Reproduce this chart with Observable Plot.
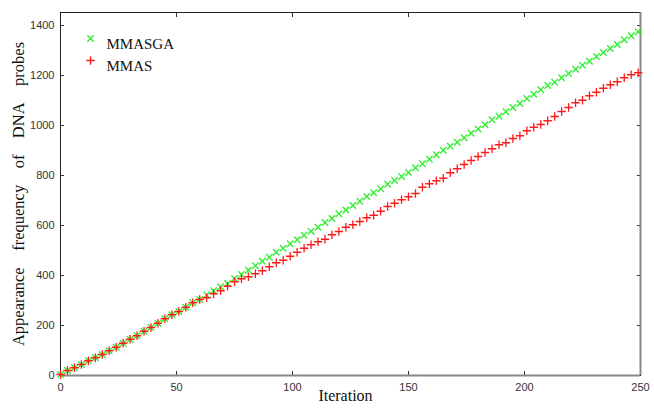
<!DOCTYPE html>
<html>
<head>
<meta charset="utf-8">
<script src="https://cdn.jsdelivr.net/npm/d3@7"></script>
<script src="https://cdn.jsdelivr.net/npm/@observablehq/plot@0.6"></script>
<style>
  body { margin: 0; background: #fff; }
</style>
</head>
<body>
<div id="chart"></div>
<script>
const iterations = [0,3,6,9,12,15,18,21,24,27,30,33,36,39,42,45,48,51,54,57,60,63,66,69,72,75,78,81,84,87,90,93,96,99,102,105,108,111,114,117,120,123,126,129,132,135,138,141,144,147,150,153,156,159,162,165,168,171,174,177,180,183,186,189,192,195,198,201,204,207,210,213,216,219,222,225,228,231,234,237,240,243,246,249];
const mmasga = [4,20,31,44,59,71,84,99,113,129,145,159,177,192,209,227,243,256,273,291,304,322,339,355,368,388,404,421,439,457,473,493,509,527,543,561,577,593,612,628,647,662,680,697,716,731,747,765,780,796,812,831,847,865,883,901,917,933,951,969,986,1003,1023,1037,1055,1072,1088,1108,1125,1143,1160,1173,1191,1208,1225,1241,1257,1276,1292,1308,1324,1343,1359,1375];
const mmas = [4,20,31,44,59,71,84,99,113,129,145,159,177,192,209,227,243,256,273,291,304,311,327,339,357,375,387,395,407,419,435,451,461,477,493,509,523,535,545,563,576,593,603,616,631,641,657,676,689,703,715,728,753,767,779,789,811,827,844,860,876,892,907,923,931,948,959,979,993,1004,1019,1036,1056,1072,1091,1101,1119,1133,1149,1163,1175,1191,1203,1211];
const seriesNames = ["MMASGA", "MMAS"];
const xTicks = [0,50,100,150,200,250];
const yTicks = [0,200,400,600,800,1000,1200,1400];
const xTitle = ["Iteration"];
const yTitle = ["Appearance frequency of DNA probes"];

const green = "#33ee33";
const red = "#ff1a1a";
const serif = "Liberation Serif, Times New Roman, serif";
const dataA = iterations.map((x, i) => ({x, y: mmasga[i]}));
const dataB = iterations.map((x, i) => ({x, y: mmas[i]}));

const chart = Plot.plot({
  width: 654,
  height: 408,
  marginLeft: 60,
  marginRight: 14,
  marginTop: 12,
  marginBottom: 33,
  style: {fontFamily: "Liberation Sans, Arial, sans-serif", fontSize: "11px", color: "#333", background: "#fff"},
  x: {domain: [0, 250]},
  y: {domain: [0, 1452]},
  marks: [
    Plot.axisX({ticks: xTicks, tickSize: -4, tickPadding: 12, tickFormat: d => String(d), label: null, stroke: "#333", fill: "#333"}),
    Plot.axisX({anchor: "top", ticks: xTicks, tickSize: -4, tickFormat: () => "", label: null, stroke: "#333"}),
    Plot.axisY({ticks: yTicks, tickSize: -4, tickPadding: 10, tickFormat: d => String(d), label: null, stroke: "#333", fill: "#333"}),
    Plot.axisY({anchor: "right", ticks: yTicks, tickSize: -4, tickFormat: () => "", label: null, stroke: "#333"}),
    Plot.frame({stroke: "#222", strokeWidth: 1}),
    Plot.ruleY([0], {stroke: "#888", strokeWidth: 2}),
    Plot.ruleX([250], {stroke: "#888", strokeWidth: 2}),
    Plot.dot(dataA, {x: "x", y: "y", symbol: "times", r: 3, stroke: green, strokeWidth: 1.4}),
    Plot.dot(dataB, {x: "x", y: "y", symbol: "plus", r: 2.8, stroke: red, strokeWidth: 1.3}),
    Plot.dot([seriesNames[0]], {frameAnchor: "top-left", dx: 30, dy: 26, symbol: "times", r: 3, stroke: green, strokeWidth: 1.4}),
    Plot.dot([seriesNames[1]], {frameAnchor: "top-left", dx: 30, dy: 48, symbol: "plus", r: 2.8, stroke: red, strokeWidth: 1.3}),
    Plot.text([seriesNames[0]], {text: d => d, frameAnchor: "top-left", dx: 46, dy: 26, textAnchor: "start", fontFamily: serif, fontSize: 15, fill: "#111"}),
    Plot.text([seriesNames[1]], {text: d => d, frameAnchor: "top-left", dx: 46, dy: 48, textAnchor: "start", fontFamily: serif, fontSize: 15, fill: "#111"}),
    Plot.text(xTitle, {text: d => d, frameAnchor: "bottom", textAnchor: "middle", dx: -5, dy: 25, fontFamily: serif, fontSize: 16, fill: "#111"}),
    Plot.text(yTitle, {text: d => d.replace(/ /g, "\u2003"), frameAnchor: "left", textAnchor: "middle", dx: -42, rotate: -90, fontFamily: serif, fontSize: 16.5, fill: "#111"})
  ]
});
document.getElementById("chart").appendChild(chart);
</script>
</body>
</html>
